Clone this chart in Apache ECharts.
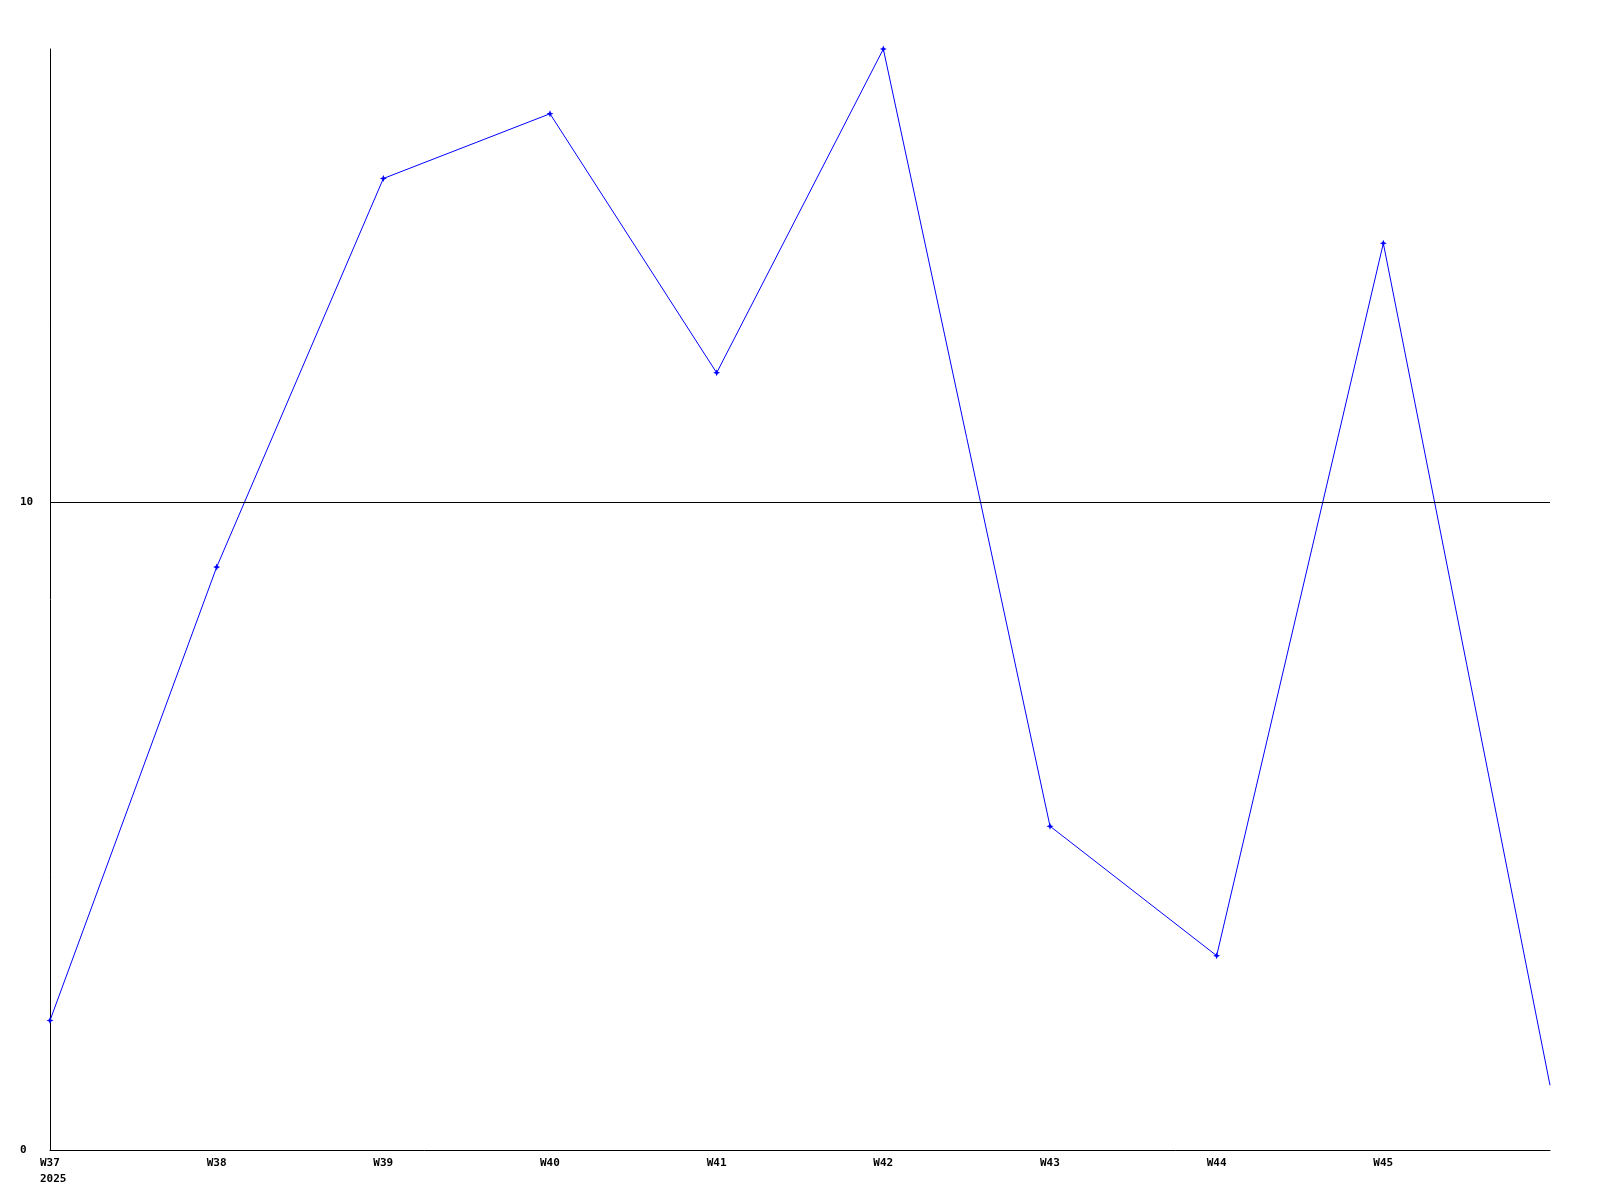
<!DOCTYPE html>
<html>
<head>
<meta charset="utf-8">
<script src="https://cdn.jsdelivr.net/npm/echarts@6/dist/echarts.min.js"></script>
<style>html,body{margin:0;padding:0;background:#fff}#c{width:1600px;height:1200px}</style>
</head>
<body>
<div id="c"></div>
<script>
var categories = ['W37', 'W38', 'W39', 'W40', 'W41', 'W42', 'W43', 'W44', 'W45', 'W46'];
var xLabels = ['W37\n2025', 'W38', 'W39', 'W40', 'W41', 'W42', 'W43', 'W44', 'W45', ''];
var values = [2, 9, 15, 16, 12, 17, 5, 3, 14, 1];
var yMax = 17;
var yStep = 10;
var refLine = 10;

var chart = echarts.init(document.getElementById('c'));
var font = 'DejaVu Sans Mono';
var seriesData = values.map(function (v, i) {
  return i === values.length - 1 ? { value: v, symbol: 'none' } : v;
});
chart.setOption({
  animation: false,
  backgroundColor: '#ffffff',
  grid: { left: 50, right: 50, top: 49, bottom: 50, containLabel: false },
  xAxis: {
    type: 'category',
    data: categories,
    boundaryGap: false,
    axisLine: { lineStyle: { color: '#000', width: 1 } },
    axisTick: { show: false },
    splitLine: { show: false },
    axisLabel: {
      interval: 0,
      margin: 5,
      color: '#000',
      fontFamily: font,
      fontWeight: 'bold',
      fontSize: 11,
      lineHeight: 16,
      align: 'left',
      formatter: function (v, i) {
        var t = xLabels[i];
        if (!t) return '';
        return t.split('\n').map(function (s) { return '{a|' + s + '}'; }).join('\n');
      },
      rich: { a: { fontFamily: font, fontWeight: 'bold', fontSize: 11, lineHeight: 16, color: '#000', padding: [0, 0, 0, -10] } }
    }
  },
  yAxis: {
    type: 'value',
    min: 0,
    max: yMax,
    interval: yStep,
    axisLine: { show: true, lineStyle: { color: '#000', width: 1 } },
    axisTick: { show: false },
    splitLine: { show: false },
    axisLabel: {
      showMaxLabel: false,
      margin: 30,
      align: 'left',
      color: '#000',
      fontFamily: font,
      fontWeight: 'bold',
      fontSize: 11,
      formatter: function (v) { return v % yStep === 0 ? String(v) : ''; }
    }
  },
  series: [{
    type: 'line',
    data: seriesData,
    symbol: 'path://M0,-1L0.3,-0.3L1,0L0.3,0.3L0,1L-0.3,0.3L-1,0L-0.3,-0.3Z',
    symbolSize: 7,
    showAllSymbol: true,
    lineStyle: { color: '#0000ff', width: 1 },
    itemStyle: { color: '#0000ff' },
    markLine: {
      silent: true,
      symbol: 'none',
      label: { show: false },
      lineStyle: { color: '#000', width: 1, type: 'solid' },
      data: [{ yAxis: refLine }]
    }
  }]
});
</script>
</body>
</html>
